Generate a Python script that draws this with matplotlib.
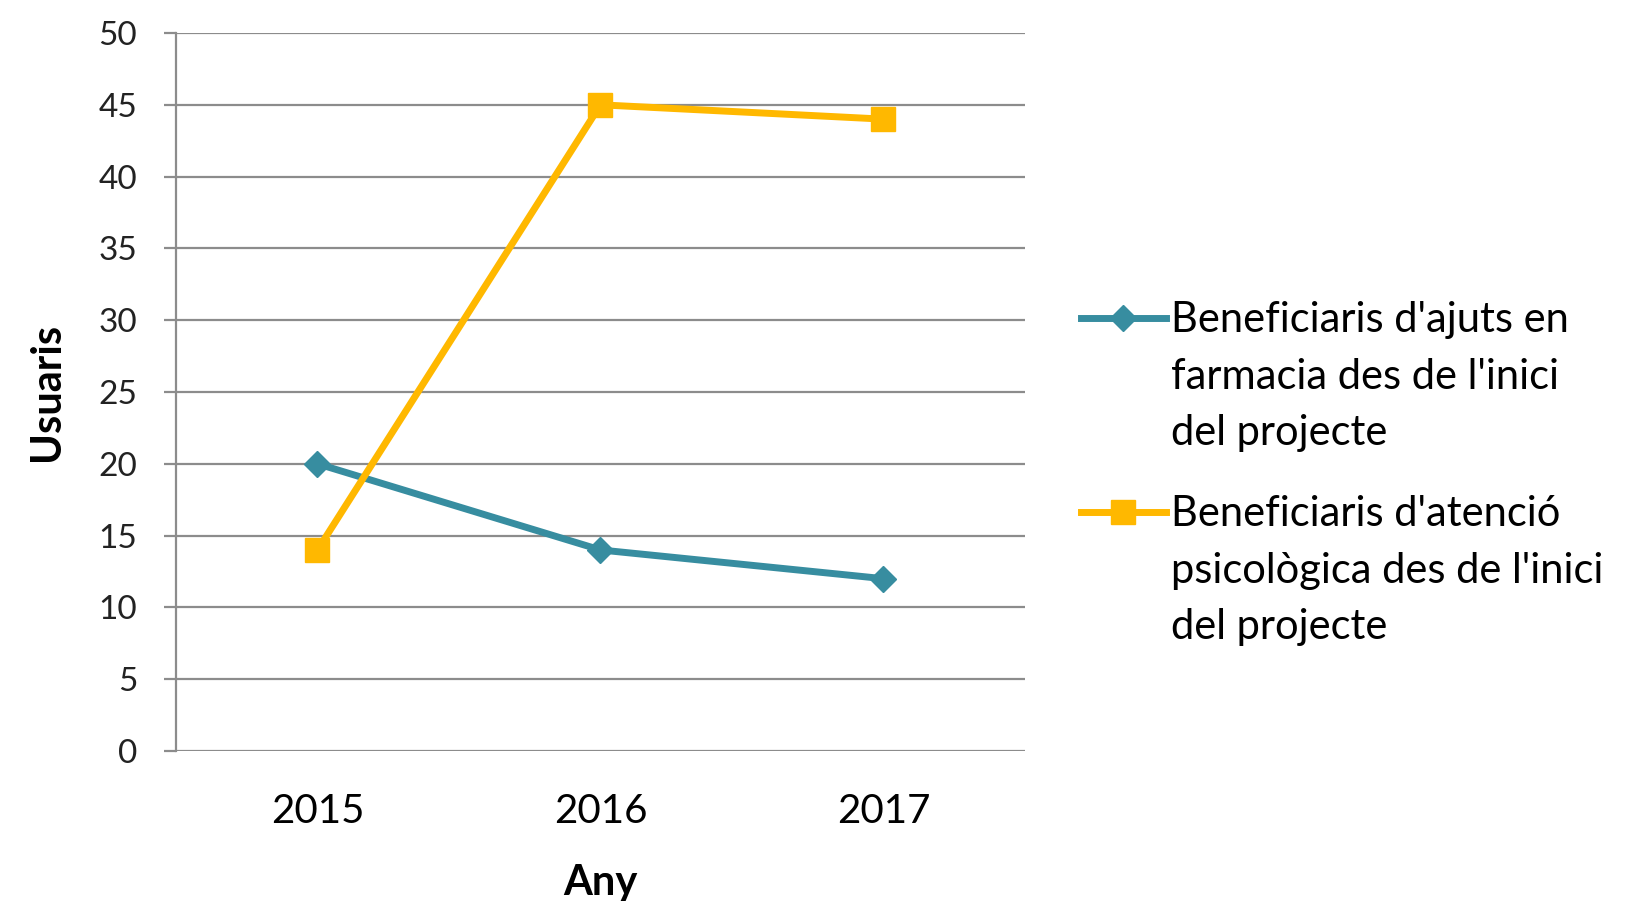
import matplotlib
matplotlib.use("Agg")
import matplotlib.pyplot as plt
from matplotlib.lines import Line2D

years = ["2015", "2016", "2017"]
farmacia = [20, 14, 12]
psicologica = [14, 45, 44]
labels = ["Beneficiaris d'ajuts en\nfarmacia des de l'inici\ndel projecte",
          "Beneficiaris d'atenció\npsicològica des de l'inici\ndel projecte"]
yticks = list(range(0, 51, 5))

plt.rcParams['font.family'] = ['Lato', 'DejaVu Sans']

teal = '#378DA0'
gold = '#FFB800'
grid = '#8C8C8C'

fig = plt.figure(figsize=(16.37, 9.01), dpi=100)
ax = fig.add_axes([176/1637, 1-751/901, (1025-176)/1637, (751-33)/901])

x = list(range(len(years)))
ax.plot(x, farmacia, color=teal, lw=5, marker='D', markersize=13, zorder=3)
ax.plot(x, psicologica, color=gold, lw=5, marker='s', markersize=17, zorder=3)

ax.set_xlim(-0.5, len(years)-0.5)
ax.set_ylim(0, 50)
ax.set_yticks(yticks)
ax.set_xticks(x)
ax.set_xticklabels(years)
ax.yaxis.grid(True, color=grid, lw=1.6)
ax.set_axisbelow(True)
for s in ['top', 'right', 'bottom']:
    ax.spines[s].set_visible(False)
ax.spines['left'].set_color(grid)
ax.spines['left'].set_linewidth(1.6)
ax.tick_params(axis='y', length=9, width=1.6, color=grid, labelsize=24, pad=19, labelcolor='#222222')
ax.tick_params(axis='x', length=0, labelsize=29, pad=30)

ax.set_ylabel("Usuaris", fontsize=30, fontweight='bold', labelpad=23)
ax.set_xlabel("Any", fontsize=30, fontweight='bold', labelpad=25)

# manual legend (handle aligned with first text line)
entries = [(teal, 'D', 13, 318), (gold, 's', 17, 512)]
for (c, m, ms, ypx), lab in zip(entries, labels):
    yf = 1 - ypx/901
    fig.add_artist(Line2D([1081/1637, 1166/1637], [yf, yf], color=c, lw=5,
                          transform=fig.transFigure))
    fig.add_artist(Line2D([1123/1637], [yf], color=c, marker=m, markersize=ms,
                          transform=fig.transFigure))
    fig.text(1171/1637, yf + 17/901, lab, fontsize=30, va='top', ha='left',
             linespacing=1.6)

fig.savefig("out.png", dpi=100)
